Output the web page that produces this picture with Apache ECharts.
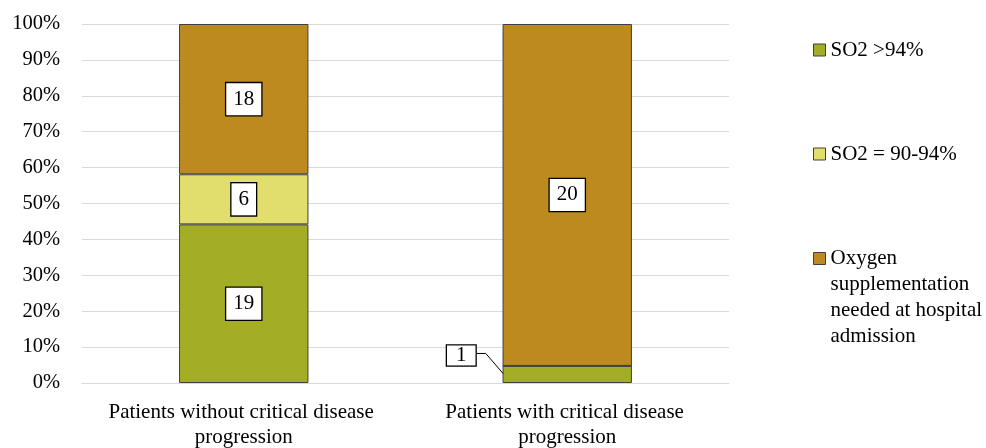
<!DOCTYPE html>
<html><head><meta charset="utf-8">
<script src="https://cdn.jsdelivr.net/npm/echarts@6/dist/echarts.min.js"></script>
<style>html,body{margin:0;padding:0;background:#fff}#c{width:986px;height:448px}</style>
</head><body><div id="c"></div>
<script>
const categories = ['Patients without critical disease \nprogression', 'Patients with critical disease \nprogression'];
const seriesNames = ['SO2 >94%', 'SO2 = 90-94%', 'Oxygen supplementation needed at hospital admission'];
const so2Above94 = [19, 1];
const so2Between90and94 = [6, 0];
const oxygenNeeded = [18, 20];
const yTicks = [0, 10, 20, 30, 40, 50, 60, 70, 80, 90, 100];
const colors = ['#A3AE26', '#E1DE6D', '#BC8A1F'];

const FONT = 'Liberation Serif, Times New Roman, serif';
const counts = [so2Above94, so2Between90and94, oxygenNeeded];
const totals = categories.map((_, i) => counts.reduce((s, arr) => s + arr[i], 0));
const BAR_FRAC = 0.4;
const CALLOUT = { dx: -106, dy: -19 };

const baseLabel = {
  show: true, position: 'inside', color: '#000', fontFamily: FONT, fontSize: 21,
  backgroundColor: '#fff', borderColor: '#000', borderWidth: 1.3,
  padding: [5, 7], lineHeight: 22,
  formatter: p => p.data.count
};

const series = counts.map((arr, si) => ({
  name: seriesNames[si],
  type: 'bar',
  stack: 'total',
  barWidth: (BAR_FRAC * 100) + '%',
  itemStyle: { color: colors[si], borderColor: '#404040', borderWidth: 1 },
  label: baseLabel,
  labelLayout: si === 0 ? (p => p.dataIndex === 1 ? { dx: CALLOUT.dx, dy: CALLOUT.dy } : {}) : undefined,
  data: arr.map((v, ci) => {
    const d = { value: v / totals[ci] * 100, count: v };
    if (v === 0) d.label = { show: false };
    if (ci === 1 && si === 0) d.label = { padding: [0, 9], lineHeight: 20 };
    return d;
  })
}));

const chart = echarts.init(document.getElementById('c'));
const legendText = { fontFamily: FONT, fontSize: 21, color: '#000', lineHeight: 22 };
const legendBase = { left: 813, orient: 'vertical', padding: 0, itemWidth: 12,
  itemStyle: { borderColor: '#404040', borderWidth: 1 }, textStyle: legendText };
chart.setOption({
  animation: false,
  grid: { left: 82, right: 257, top: 24, bottom: 65, containLabel: false, outerBoundsMode: 'none' },
  xAxis: {
    type: 'category', data: categories,
    axisLine: { show: true, lineStyle: { color: '#d9d9d9' } },
    axisTick: { show: false },
    axisLabel: { fontFamily: FONT, fontSize: 21, color: '#000', lineHeight: 25, margin: 17, interval: 0 }
  },
  yAxis: {
    type: 'value', min: 0, max: 100, interval: 10,
    axisLabel: { fontFamily: FONT, fontSize: 20.5, color: '#000', margin: 22,
      formatter: v => yTicks.includes(v) ? v + '%' : '' },
    splitLine: { lineStyle: { color: '#d9d9d9', width: 1 } },
    axisLine: { show: false }, axisTick: { show: false }
  },
  legend: [
    Object.assign({ data: [seriesNames[0]], top: 39, icon: 'rect', itemHeight: 12 }, legendBase),
    Object.assign({ data: [seriesNames[1]], top: 143, icon: 'rect', itemHeight: 12 }, legendBase),
    Object.assign({ data: [seriesNames[2]], top: 245, itemHeight: 104,
      icon: 'path://M0,0M0,7H12V19H0ZM12,104',
      formatter: () => 'Oxygen\nsupplementation\nneeded at hospital\nadmission' }, legendBase,
      { textStyle: Object.assign({}, legendText, { lineHeight: 26 }) })
  ],
  series
});

// leader line for the small "1" label, positioned via the chart's own scales
const share = so2Above94[1] / totals[1] * 100;
const pMid = chart.convertToPixel({ gridIndex: 0 }, [1, share / 2]);
const pPrev = chart.convertToPixel({ gridIndex: 0 }, [0, share / 2]);
const catW = pMid[0] - pPrev[0];
const barLeft = pMid[0] - BAR_FRAC * catW / 2;
const labelRight = pMid[0] + CALLOUT.dx + 15.5;
const labelY = pMid[1] + CALLOUT.dy - 2;
chart.setOption({
  graphic: [{
    type: 'polyline', silent: true, z: 100,
    shape: { points: [[labelRight, labelY], [labelRight + 9, labelY], [barLeft + 0.5, pMid[1] - 1]] },
    style: { stroke: '#000', lineWidth: 1, fill: null }
  }]
});
</script></body></html>
